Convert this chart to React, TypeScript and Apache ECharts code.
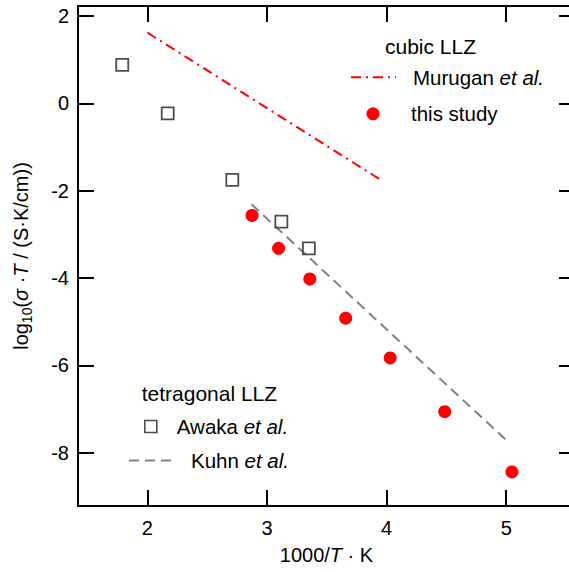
import React, { useEffect, useRef } from "react";
import * as echarts from "echarts";

// Awaka et al. (tetragonal LLZ), open squares
const awakaX = [1.79, 2.17, 2.71, 3.12, 3.35];
const awakaY = [0.88, -0.23, -1.75, -2.71, -3.32];
// this study (cubic LLZ), red dots
const studyX = [2.875, 3.097, 3.358, 3.658, 4.03, 4.486, 5.048];
const studyY = [-2.565, -3.32, -4.02, -4.92, -5.83, -7.06, -8.44];
// Murugan et al. (cubic LLZ) fit line
const muruganX = [2.0, 3.944];
const muruganY = [1.62, -1.74];
// Kuhn et al. (tetragonal LLZ) fit line
const kuhnX = [2.87, 5.02];
const kuhnY = [-2.31, -7.76];
// tick values
const xTicks = [2, 3, 4, 5];
const yTicks = [-8, -6, -4, -2, 0, 2];

const FONT = "'Liberation Sans', Arial, Helvetica, sans-serif";
const LF = 20.5;
const zip = (xs: number[], ys: number[]) => xs.map((x, i) => [x, ys[i]]);

export default function App() {
  const ref = useRef<HTMLDivElement>(null);
  useEffect(() => {
    if (!ref.current) return;
    const chart = echarts.init(ref.current, undefined, { renderer: "svg" });
    const axisLine = { show: true, onZero: false, lineStyle: { color: "#000", width: 2 } };
    const tickX = { show: true, inside: true, length: 16, lineStyle: { color: "#000", width: 2 }, customValues: xTicks };
    const tickY = { show: true, inside: true, length: 16, lineStyle: { color: "#000", width: 2 }, customValues: yTicks };
    const italicRich = { i: { fontStyle: "italic", fontSize: 20, fontFamily: FONT, color: "#000", lineHeight: 20 } };
    const legendRich = { i: { fontStyle: "italic", fontSize: LF, fontFamily: FONT, color: "#000", lineHeight: 20 } };
    const legendBase = {
      orient: "vertical",
      padding: 0,
      selectedMode: false,
      itemGap: 0,
    };
    chart.setOption({
      animation: false,
      backgroundColor: "#fff",
      textStyle: { fontFamily: FONT },
      grid: { left: 75, right: 5, top: 6, bottom: 66, containLabel: false },
      xAxis: [
        {
          type: "value",
          position: "bottom",
          min: 1.42,
          max: 5.575,
          axisLine,
          axisTick: tickX,
          splitLine: { show: false },
          axisLabel: { customValues: xTicks, fontSize: 20, color: "#000", margin: 12, fontFamily: FONT },
          name: "1000/{i|T} · K",
          nameLocation: "middle",
          nameGap: 37,
          nameTextStyle: { fontSize: 20, color: "#000", fontFamily: FONT, lineHeight: 24, rich: italicRich },
        },
        {
          type: "value",
          position: "top",
          min: 1.42,
          max: 5.575,
          axisLine,
          axisTick: tickX,
          splitLine: { show: false },
          axisLabel: { show: false },
        },
      ],
      yAxis: [
        {
          type: "value",
          position: "left",
          min: -9.22,
          max: 2.23,
          axisLine,
          axisTick: tickY,
          splitLine: { show: false },
          axisLabel: { customValues: yTicks, fontSize: 20, color: "#000", margin: 9, fontFamily: FONT },
          name: "{n|log}{s|10}{n|(}{i|σ}{n| ·}{i|T}{n| / (S·K/cm))}",
          nameLocation: "middle",
          nameGap: 44,
          nameRotate: 90,
          nameTextStyle: {
            fontSize: 20,
            color: "#000",
            fontFamily: FONT,
            lineHeight: 26,
            rich: {
              n: { fontSize: 20, fontFamily: FONT, color: "#000", lineHeight: 26 },
              s: { fontSize: 14, fontFamily: FONT, color: "#000", lineHeight: 26, verticalAlign: "bottom" },
              i: { fontSize: 20, fontFamily: FONT, color: "#000", lineHeight: 26, fontStyle: "italic" },
            },
          },
        },
        {
          type: "value",
          position: "right",
          min: -9.22,
          max: 2.23,
          axisLine,
          axisTick: tickY,
          splitLine: { show: false },
          axisLabel: { show: false },
        },
      ],
      legend: [
        {
          ...legendBase,
          data: ["Murugan et al."],
          left: 350,
          top: 66.7,
          itemWidth: 45,
          itemHeight: 13,
          lineStyle: { type: [10, 5, 2, 5], color: "#ff0000", width: 2 },
          itemStyle: { color: "rgba(0,0,0,0)", borderWidth: 0, opacity: 0 },
          formatter: () => "Murugan {i|et al.}",
          textStyle: { fontSize: LF, color: "#000", fontFamily: FONT, lineHeight: 20, padding: [0, 0, 0, 12], rich: legendRich },
        },
        {
          ...legendBase,
          data: ["this study"],
          left: 366.5,
          top: 103.3,
          itemWidth: 13,
          itemHeight: 13,
          itemStyle: { color: "#ff0000", opacity: 1 },
          textStyle: { fontSize: LF, color: "#000", fontFamily: FONT, lineHeight: 20, padding: [0, 0, 0, 26.5] },
        },
        {
          ...legendBase,
          data: ["Awaka et al."],
          left: 144,
          top: 416,
          itemWidth: 12,
          itemHeight: 12,
          itemStyle: { color: "rgba(255,255,255,0)", borderColor: "#4d4d4d", borderWidth: 1.6 },
          formatter: () => "Awaka {i|et al.}",
          textStyle: { fontSize: LF, color: "#000", fontFamily: FONT, lineHeight: 20, padding: [0, 0, 0, 15], rich: legendRich },
        },
        {
          ...legendBase,
          data: ["Kuhn et al."],
          left: 128,
          top: 450,
          itemWidth: 44,
          itemHeight: 11,
          lineStyle: { type: [10, 6], color: "#808080", width: 2 },
          itemStyle: { color: "rgba(0,0,0,0)", borderWidth: 0, opacity: 0 },
          formatter: () => "Kuhn {i|et al.}",
          textStyle: { fontSize: LF, color: "#000", fontFamily: FONT, lineHeight: 20, padding: [0, 0, 0, 13], rich: legendRich },
        },
      ],
      graphic: [
        {
          type: "text",
          x: 385,
          y: 46,
          style: { text: "cubic LLZ", font: `21px ${FONT}`, fill: "#000", verticalAlign: "middle", align: "left" },
        },
        {
          type: "text",
          x: 141.7,
          y: 393.5,
          style: { text: "tetragonal LLZ", font: `21px ${FONT}`, fill: "#000", verticalAlign: "middle", align: "left" },
        },
      ],
      series: [
        {
          name: "Murugan et al.",
          type: "line",
          xAxisIndex: 0,
          yAxisIndex: 0,
          data: zip(muruganX, muruganY),
          symbol: "none",
          lineStyle: { color: "#ff0000", width: 2, type: [10, 5, 2, 5] },
          itemStyle: { color: "#ff0000" },
          z: 2,
        },
        {
          name: "Kuhn et al.",
          type: "line",
          xAxisIndex: 0,
          yAxisIndex: 0,
          data: zip(kuhnX, kuhnY),
          symbol: "none",
          lineStyle: { color: "#808080", width: 2, type: [10, 6] },
          itemStyle: { color: "#808080" },
          z: 2,
        },
        {
          name: "Awaka et al.",
          type: "scatter",
          xAxisIndex: 0,
          yAxisIndex: 0,
          data: zip(awakaX, awakaY),
          symbol: "rect",
          symbolSize: 12,
          itemStyle: { color: "rgba(255,255,255,0)", borderColor: "#4d4d4d", borderWidth: 1.8, opacity: 1 },
          z: 3,
        },
        {
          name: "this study",
          type: "scatter",
          xAxisIndex: 0,
          yAxisIndex: 0,
          data: zip(studyX, studyY),
          symbol: "circle",
          symbolSize: 13,
          itemStyle: { color: "#ff0000", opacity: 1 },
          z: 4,
        },
      ],
    });
    return () => chart.dispose();
  }, []);
  return (
    <div style={{ position: "fixed", left: 0, top: 0, width: 569, height: 572, overflow: "hidden", background: "#fff" }}>
      <div ref={ref} style={{ width: 580, height: 572 }} />
    </div>
  );
}
